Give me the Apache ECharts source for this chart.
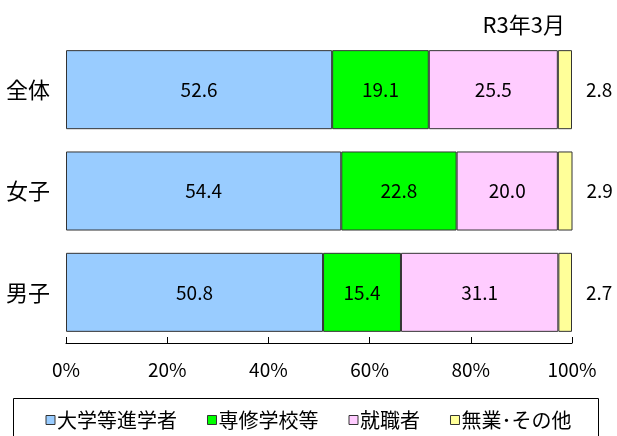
<!DOCTYPE html>
<html><head><meta charset="utf-8">
<script src="https://cdn.jsdelivr.net/npm/echarts@6/dist/echarts.min.js"></script>
<style>html,body{margin:0;padding:0;background:#fff}#c{width:617px;height:436px}</style>
</head><body><div id="c"></div>
<script>
const categories = ['全体', '女子', '男子'];
const seriesNames = ['大学等進学者', '専修学校等', '就職者', '無業･その他'];
const univ = [52.6, 54.4, 50.8];
const senshu = [19.1, 22.8, 15.4];
const shushoku = [25.5, 20.0, 31.1];
const mugyo = [2.8, 2.9, 2.7];
const xTicks = [0, 20, 40, 60, 80, 100];
const titleText = 'R3年3月';

const colors = ['#99CCFF', '#00FF00', '#FFCCFF', '#FFFF99'];
const FONT = '"Noto Sans CJK JP", sans-serif';
const dataSets = [univ, senshu, shushoku, mugyo];

const chart = echarts.init(document.getElementById('c'), null, {renderer: 'canvas'});
const series = dataSets.map((d, i) => ({
  name: seriesNames[i],
  type: 'bar',
  stack: 'total',
  barCategoryGap: '22%',
  data: d,
  itemStyle: {color: colors[i], borderColor: '#333', borderWidth: 1},
  label: {
    show: true,
    position: i === 3 ? 'right' : 'inside',
    distance: 14,
    color: '#000',
    fontFamily: FONT,
    fontSize: 19,
    formatter: p => p.value.toFixed(1)
  },
  emphasis: {disabled: true}
}));

chart.setOption({
  animation: false,
  title: {
    text: titleText, right: 47, top: 9,
    textStyle: {fontFamily: FONT, fontSize: 22, fontWeight: 'normal', color: '#000'}
  },
  grid: {left: 66, width: 506, top: 39, height: 304},
  xAxis: {
    type: 'value', min: xTicks[0], max: xTicks[xTicks.length - 1], interval: 20,
    axisLine: {show: true, lineStyle: {color: '#000', width: 1}},
    axisTick: {show: true, inside: true, length: 6, lineStyle: {color: '#000'}},
    splitLine: {show: false},
    axisLabel: {formatter: '{value}%', margin: 17, color: '#000', fontFamily: FONT, fontSize: 19}
  },
  yAxis: {
    type: 'category', data: categories, inverse: true,
    axisLine: {show: false}, axisTick: {show: false},
    axisLabel: {margin: 16, color: '#000', fontFamily: FONT, fontSize: 22}
  },
  legend: {
    top: 405, left: 'center',
    data: seriesNames.map((n, i) => ({name: n, itemStyle: {color: colors[i], borderColor: '#333', borderWidth: 1}})),
    icon: 'rect', itemWidth: 9, itemHeight: 9, itemGap: 30,
    textStyle: {fontFamily: FONT, fontSize: 20, color: '#000', padding: [0, 0, 0, -3]}
  },
  graphic: [{
    type: 'rect', shape: {x: 13.5, y: 398.5, width: 585, height: 40},
    style: {fill: 'none', stroke: '#000', lineWidth: 1}, silent: true
  }],
  series: series
});
</script></body></html>
